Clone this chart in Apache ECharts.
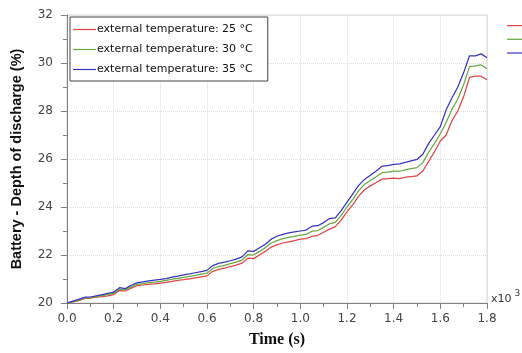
<!DOCTYPE html>
<html>
<head>
<meta charset="utf-8">
<script src="https://cdn.jsdelivr.net/npm/echarts@6/dist/echarts.min.js"></script>
<style>
  html, body { margin: 0; padding: 0; background: #fff; }
  #chart { width: 522px; height: 353px; }
</style>
</head>
<body>
<div id="chart"></div>
<script>
// time axis, in thousands of seconds (step 0.025)
const timeK = [
    0.000, 0.025, 0.050, 0.075, 0.100, 0.125, 0.150, 0.175, 0.200, 0.225,
    0.250, 0.275, 0.300, 0.325, 0.350, 0.375, 0.400, 0.425, 0.450, 0.475,
    0.500, 0.525, 0.550, 0.575, 0.600, 0.625, 0.650, 0.675, 0.700, 0.725,
    0.750, 0.775, 0.800, 0.825, 0.850, 0.875, 0.900, 0.925, 0.950, 0.975,
    1.000, 1.025, 1.050, 1.075, 1.100, 1.125, 1.150, 1.175, 1.200, 1.225,
    1.250, 1.275, 1.300, 1.325, 1.350, 1.375, 1.400, 1.425, 1.450, 1.475,
    1.500, 1.525, 1.550, 1.575, 1.600, 1.625, 1.650, 1.675, 1.700, 1.725,
    1.750, 1.775, 1.800
]
const dod25 = [
    20.00, 20.05, 20.10, 20.18, 20.20, 20.24, 20.27, 20.30, 20.35, 20.52,
    20.50, 20.62, 20.72, 20.75, 20.78, 20.80, 20.83, 20.86, 20.90, 20.94,
    20.97, 21.01, 21.05, 21.09, 21.13, 21.32, 21.40, 21.45, 21.52, 21.58,
    21.66, 21.87, 21.85, 22.00, 22.15, 22.33, 22.42, 22.50, 22.55, 22.60,
    22.66, 22.68, 22.78, 22.82, 22.95, 23.08, 23.18, 23.45, 23.80, 24.10,
    24.45, 24.72, 24.88, 25.02, 25.16, 25.18, 25.20, 25.18, 25.24, 25.27,
    25.30, 25.50, 25.90, 26.30, 26.75, 27.00, 27.60, 28.00, 28.60, 29.40,
    29.45, 29.45, 29.30
]
const dod30 = [
    20.00, 20.06, 20.12, 20.21, 20.22, 20.27, 20.31, 20.35, 20.40, 20.58,
    20.55, 20.68, 20.78, 20.81, 20.85, 20.87, 20.90, 20.94, 20.99, 21.03,
    21.07, 21.11, 21.15, 21.20, 21.24, 21.44, 21.52, 21.57, 21.64, 21.70,
    21.79, 22.02, 22.00, 22.15, 22.30, 22.50, 22.60, 22.68, 22.73, 22.78,
    22.83, 22.86, 22.99, 23.02, 23.15, 23.30, 23.36, 23.65, 24.00, 24.32,
    24.68, 24.94, 25.10, 25.26, 25.43, 25.45, 25.49, 25.49, 25.55, 25.60,
    25.64, 25.85, 26.28, 26.65, 27.05, 27.52, 28.08, 28.50, 29.10, 29.85,
    29.88, 29.92, 29.76
]
const dod35 = [
    20.00, 20.08, 20.15, 20.24, 20.25, 20.30, 20.35, 20.40, 20.45, 20.64,
    20.60, 20.74, 20.84, 20.88, 20.92, 20.95, 20.98, 21.02, 21.08, 21.12,
    21.17, 21.21, 21.26, 21.31, 21.36, 21.56, 21.65, 21.70, 21.76, 21.83,
    21.92, 22.17, 22.15, 22.30, 22.45, 22.66, 22.78, 22.86, 22.92, 22.96,
    23.00, 23.04, 23.20, 23.22, 23.35, 23.52, 23.55, 23.85, 24.20, 24.55,
    24.90, 25.15, 25.32, 25.50, 25.70, 25.72, 25.78, 25.80, 25.86, 25.92,
    25.98, 26.20, 26.65, 27.00, 27.35, 28.05, 28.55, 29.00, 29.60, 30.30,
    30.30, 30.38, 30.22
]
const seriesNames = [
    'external temperature: 25 °C',
    'external temperature: 30 °C',
    'external temperature: 35 °C'
]
const seriesColors = ['#e04545', '#66a845', '#3535c0']

const pair = (ys) => timeK.map((t, i) => [t, ys[i]])

let myChart = echarts.init(document.getElementById('chart'))

const axisGray = '#808080'
const tickFont = { fontFamily: 'DejaVu Sans', fontSize: 12, color: '#444' }

let option = {
    animation: false,
    backgroundColor: '#fff',
    grid: {
        left: 67, right: 35, top: 15, bottom: 45,
        show: true, borderColor: '#d4d4d4', borderWidth: 1
    },
    legend: [
        {
            data: seriesNames,
            orient: 'vertical',
            left: 70, top: 17,
            icon: 'rect',
            itemWidth: 23, itemHeight: 1.2, itemGap: 7,
            padding: [6, 15, 5, 3],
            backgroundColor: '#fff',
            borderColor: '#444', borderWidth: 1,
            textStyle: { fontFamily: 'DejaVu Sans', fontSize: 11, lineHeight: 13, color: '#111', padding: [0, 0, 0, -4] }
        },
        {
            data: seriesNames,
            orient: 'vertical',
            left: 507, top: 25,
            icon: 'rect',
            itemWidth: 22, itemHeight: 1.2, itemGap: 12.5,
            padding: 0,
            formatter: () => '',
            textStyle: { fontSize: 1, lineHeight: 1 },
            selectedMode: false
        }
    ],
    xAxis: {
        type: 'value',
        min: 0, max: 1.8, interval: 0.2,
        name: 'Time (s)',
        nameLocation: 'middle',
        nameGap: 29,
        nameTextStyle: { fontFamily: 'Liberation Serif', fontWeight: 'bold', fontSize: 16, color: '#111' },
        axisLine: { lineStyle: { color: axisGray, width: 1 } },
        axisTick: { inside: false, length: 6, lineStyle: { color: axisGray } },
        minorTick: { show: true, splitNumber: 2, length: 4, lineStyle: { color: axisGray } },
        axisLabel: Object.assign({ margin: 10, formatter: (v) => v.toFixed(1) }, tickFont),
        splitLine: { show: true, lineStyle: { color: '#dcdcdc', type: 'dotted' } }
    },
    yAxis: {
        type: 'value',
        min: 20, max: 32, interval: 2,
        name: 'Battery - Depth of discharge (%)',
        nameLocation: 'middle',
        nameGap: 43,
        nameTextStyle: { fontFamily: 'Liberation Sans', fontWeight: 'bold', fontSize: 14.5, color: '#111' },
        axisLine: { show: true, lineStyle: { color: axisGray, width: 1 } },
        axisTick: { show: true, inside: false, length: 6, lineStyle: { color: axisGray } },
        minorTick: { show: true, splitNumber: 2, length: 4, lineStyle: { color: axisGray } },
        axisLabel: Object.assign({ margin: 14 }, tickFont),
        splitLine: { show: true, lineStyle: { color: '#dcdcdc', type: 'dotted' } }
    },
    graphic: [
        {
            type: 'text',
            left: 491, top: 289,
            style: {
                text: '{a|x10}{b|3}',
                rich: {
                    a: { fontFamily: 'DejaVu Sans', fontSize: 11, fill: '#333', verticalAlign: 'bottom', lineHeight: 16 },
                    b: { fontFamily: 'DejaVu Sans', fontSize: 9, fill: '#333', verticalAlign: 'top', lineHeight: 16, padding: [0, 0, 8, 3] }
                }
            }
        }
    ],
    series: [dod25, dod30, dod35].map((ys, i) => ({
        name: seriesNames[i],
        type: 'line',
        data: pair(ys),
        symbol: 'none',
        smooth: false,
        color: seriesColors[i],
        lineStyle: { width: 1.25, color: seriesColors[i] },
        z: 2 + i
    }))
}

myChart.setOption(option)
</script>
</body>
</html>
